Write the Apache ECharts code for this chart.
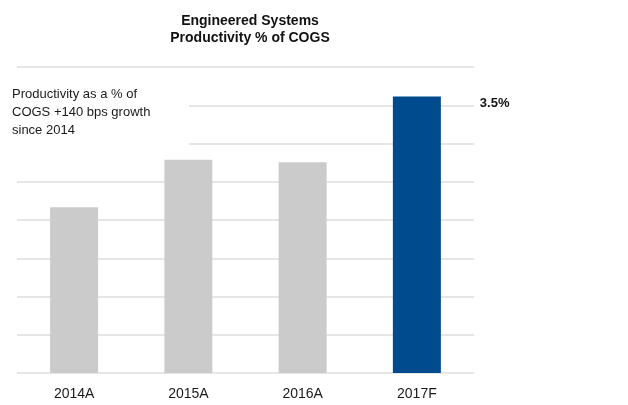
<!DOCTYPE html>
<html>
<head>
<meta charset="utf-8">
<script src="https://cdn.jsdelivr.net/npm/echarts@6/dist/echarts.min.js"></script>
<style>
  html, body { margin: 0; padding: 0; background: #ffffff; }
  #chart { width: 628px; height: 405px; }
</style>
</head>
<body>
<div id="chart"></div>
<script>
// Productivity as % of COGS by year
const categories = ['2014A', '2015A', '2016A', '2017F'];
const productivity = [2.1, 2.7, 2.67, 3.5];
const barColors = ['#cbcbcb', '#cbcbcb', '#cbcbcb', '#004b8d'];
const titleLines = ['Engineered Systems', 'Productivity % of COGS'];
const noteLines = ['Productivity as a % of', 'COGS +140 bps growth', 'since 2014'];
const forecastLabel = '3.5%';

const FONT = '"Liberation Sans", Arial, Helvetica, sans-serif';
const chart = echarts.init(document.getElementById('chart'), null, { renderer: 'canvas' });

chart.setOption({
  animation: false,
  backgroundColor: '#ffffff',
  title: {
    text: titleLines.join('\n'),
    left: 245,
    textAlign: 'center',
    top: 8,
    textStyle: {
      fontFamily: FONT, fontSize: 14, fontWeight: 'bold', color: '#111111', lineHeight: 17
    }
  },
  grid: { left: 17, right: 154, top: 67, bottom: 32 },
  xAxis: {
    type: 'category',
    data: categories,
    axisLine: { show: false },
    axisTick: { show: false },
    axisLabel: {
      fontFamily: FONT, fontSize: 14, color: '#1a1a1a', margin: 14
    }
  },
  yAxis: {
    type: 'value',
    min: 0,
    max: 3.875,
    interval: 0.484375,
    axisLabel: { show: false },
    axisLine: { show: false },
    axisTick: { show: false },
    splitLine: { lineStyle: { color: '#dedede', width: 1.5 } }
  },
  series: [{
    type: 'bar',
    barWidth: '42%',
    data: productivity.map((v, i) => {
      const item = { value: v, itemStyle: { color: barColors[i] } };
      if (i === productivity.length - 1) {
        item.label = {
          show: true,
          position: ['100%', 0],
          offset: [39, 7],
          verticalAlign: 'middle',
          formatter: forecastLabel,
          fontFamily: FONT, fontSize: 13, fontWeight: 'bold', color: '#111111'
        };
      }
      return item;
    })
  }],
  graphic: [{
    type: 'group',
    left: 0,
    top: 80,
    z: 100,
    children: [
      { type: 'rect', z: 100, shape: { x: 0, y: 0, width: 189, height: 70 }, style: { fill: '#ffffff' } },
      {
        type: 'text',
        z: 101,
        x: 12, y: 5,
        style: {
          text: noteLines.join('\n'),
          font: '13px ' + FONT,
          lineHeight: 18,
          fill: '#1a1a1a'
        }
      }
    ]
  }]
});
</script>
</body>
</html>
